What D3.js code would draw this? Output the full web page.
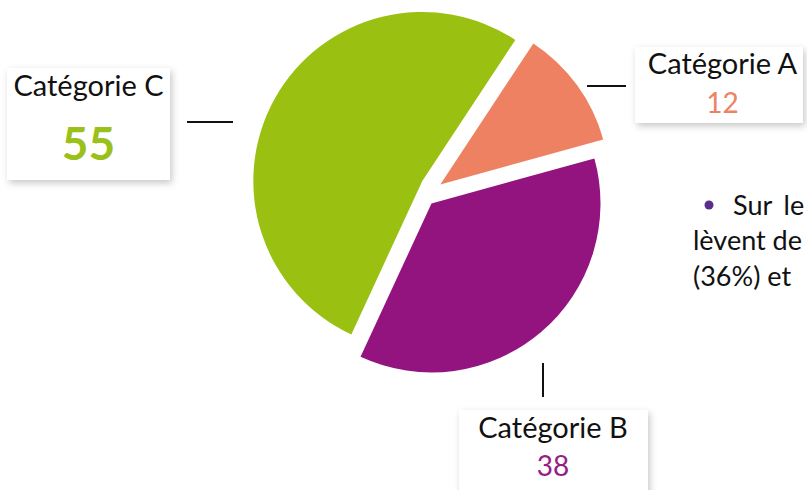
<!DOCTYPE html>
<html lang="fr">
<head>
<meta charset="utf-8">
<script src="https://cdn.jsdelivr.net/npm/d3@7"></script>
<style>
  html, body { margin: 0; padding: 0; background: #ffffff; }
  svg { display: block; }
  text { font-family: Lato, "Open Sans", sans-serif; }
</style>
</head>
<body>
<svg id="chart" width="807" height="490"></svg>
<script>
// Répartition par catégorie
const categories = ["Catégorie A", "Catégorie B", "Catégorie C"];
const values = [12, 38, 55];
const colors = ["#EF8163", "#93137F", "#9AC112"];
const valueColors = ["#EF8264", "#95207F", "#99C11A"];

// Texte d'accompagnement (colonne de droite)
const bodyLines = ["Sur le", "lèvent de", "(36%) et"];

const svg = d3.select("#chart");

const defs = svg.append("defs");
const shadow = defs.append("filter").attr("id", "boxShadow")
  .attr("x", "-20%").attr("y", "-20%").attr("width", "140%").attr("height", "150%");
shadow.append("feDropShadow")
  .attr("dx", 2).attr("dy", 3).attr("stdDeviation", 3.5)
  .attr("flood-color", "#000").attr("flood-opacity", 0.22);

// Camembert éclaté : chaque part est décalée d'une distance et dans une direction propres
const cx = 428, cy = 190.9, radius = 169;
const startDeg = 33.4;
const explodeDist = [13.9, 13.0, 11.4];
const explodeDeg = [62.5, 164.4, 330.1];

const pie = d3.pie().sort(null)
  .startAngle(startDeg * Math.PI / 180)
  .endAngle(startDeg * Math.PI / 180 + 2 * Math.PI);
const arc = d3.arc().innerRadius(0).outerRadius(radius);

const arcs = pie(values);
const pieG = svg.append("g").attr("transform", `translate(${cx},${cy})`);
pieG.selectAll("path.slice")
  .data(arcs)
  .join("path")
  .attr("class", "slice")
  .attr("fill", (d, i) => colors[i])
  .attr("d", arc)
  .attr("transform", (d, i) => {
    const a = explodeDeg[i] * Math.PI / 180;
    return `translate(${explodeDist[i] * Math.sin(a)},${-explodeDist[i] * Math.cos(a)})`;
  });

// Étiquettes : boîte, nom, valeur, trait de rappel
const labelLayout = [
  { box: [635, 47, 168, 76], nameY: 74, valY: 112.5, cxText: 722.5, valSize: 28, valWeight: 400,
    line: [587, 86, 626, 86] },
  { box: [459, 410, 189, 110], nameY: 438, valY: 476, cxText: 553, valSize: 28, valWeight: 400,
    line: [543, 363, 543, 397] },
  { box: [7, 68, 163, 112], nameY: 96, valY: 160, cxText: 88.5, valSize: 46, valWeight: 700,
    line: [187, 122, 233, 122] }
];

const labels = svg.append("g").selectAll("g.label")
  .data(categories.map((c, i) => ({ name: c, value: values[i], i })))
  .join("g").attr("class", "label");

labels.append("line")
  .attr("x1", d => labelLayout[d.i].line[0]).attr("y1", d => labelLayout[d.i].line[1])
  .attr("x2", d => labelLayout[d.i].line[2]).attr("y2", d => labelLayout[d.i].line[3])
  .attr("stroke", "#111").attr("stroke-width", 2);

labels.append("rect")
  .attr("x", d => labelLayout[d.i].box[0]).attr("y", d => labelLayout[d.i].box[1])
  .attr("width", d => labelLayout[d.i].box[2]).attr("height", d => labelLayout[d.i].box[3])
  .attr("fill", "#fff").attr("filter", "url(#boxShadow)");

labels.append("text")
  .attr("x", d => labelLayout[d.i].cxText).attr("y", d => labelLayout[d.i].nameY)
  .attr("text-anchor", "middle").attr("font-size", 29).attr("fill", "#111")
  .text(d => d.name);

labels.append("text")
  .attr("x", d => labelLayout[d.i].cxText).attr("y", d => labelLayout[d.i].valY)
  .attr("text-anchor", "middle")
  .attr("font-size", d => labelLayout[d.i].valSize)
  .attr("font-weight", d => labelLayout[d.i].valWeight)
  .attr("fill", d => valueColors[d.i])
  .text(d => d.value);

// Colonne de texte à droite, première ligne précédée d'une puce
svg.append("circle").attr("cx", 709).attr("cy", 205).attr("r", 4.5).attr("fill", "#5B2D8C");
const body = svg.append("g");
body.selectAll("text")
  .data(bodyLines)
  .join("text")
  .attr("x", (d, i) => i === 0 ? 733 : 693)
  .attr("y", (d, i) => 214.5 + i * 35.5)
  .attr("font-size", 27)
  .attr("word-spacing", (d, i) => i === 0 ? 5 : 0)
  .attr("fill", "#111")
  .text(d => d);
</script>
</body>
</html>
